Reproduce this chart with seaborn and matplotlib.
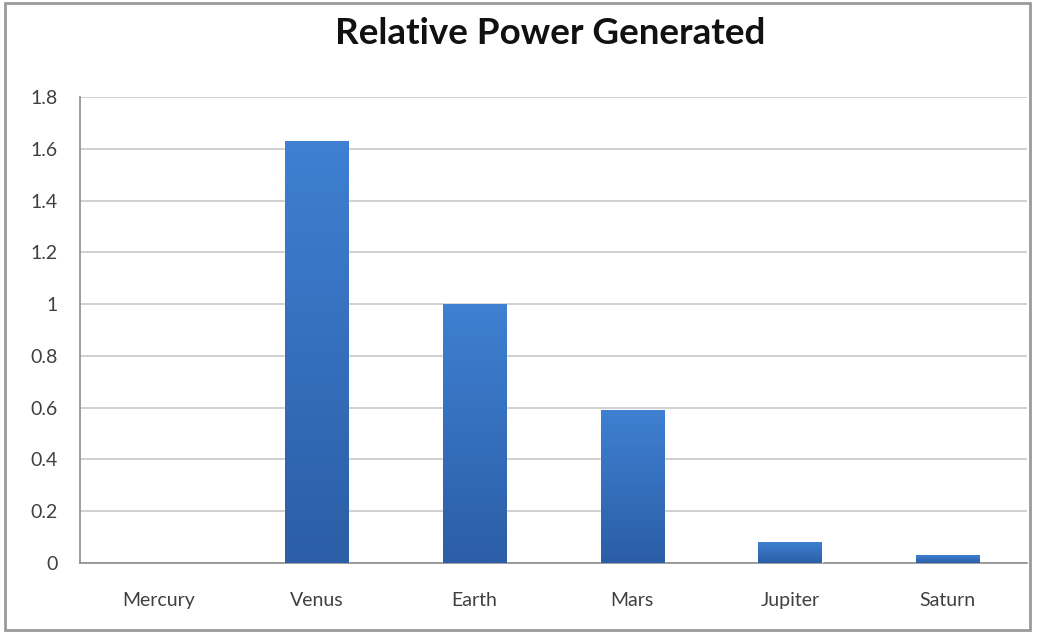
# Recrear grafica de barras: potencia relativa por planeta
import seaborn as sns
import pandas as pd
import numpy as np
import matplotlib.pyplot as plt
from matplotlib.patches import Rectangle

# Datos
planetas = ["Mercury", "Venus", "Earth", "Mars", "Jupiter", "Saturn"]
potencia = [0.0, 1.63, 1.0, 0.59, 0.08, 0.03]
y_ticks = [0, 0.2, 0.4, 0.6, 0.8, 1, 1.2, 1.4, 1.6, 1.8]
y_labels = ["0", "0.2", "0.4", "0.6", "0.8", "1", "1.2", "1.4", "1.6", "1.8"]

df = pd.DataFrame({"planeta": planetas, "potencia": potencia})

sns.set_style("white")
plt.rcParams['font.family'] = ['Lato', 'DejaVu Sans']

fig = plt.figure(figsize=(10.37, 6.34), dpi=100)
ax = fig.add_axes([0.0771, 0.112, 0.913, 0.735])

sns.barplot(data=df, x="planeta", y="potencia", color="#3a78c9", width=0.4, ax=ax, zorder=3)

# gradiente en las barras (claro arriba, oscuro abajo)
grad = np.linspace(0, 1, 256).reshape(-1, 1)
cmap = plt.matplotlib.colors.LinearSegmentedColormap.from_list("g", ["#2b5ea6", "#3f80d2"])
for p in ax.patches:
    h = p.get_height()
    if h <= 0:
        p.set_visible(False)
        continue
    x0 = p.get_x()
    w = p.get_width()
    im = ax.imshow(grad, extent=[x0, x0 + w, 0, h], origin="lower", cmap=cmap,
                   aspect="auto", zorder=4)
    im.set_clip_path(p)

ax.set_xlim(-0.5, 5.5)
ax.set_ylim(0, 1.8)
ax.set_yticks(y_ticks)
ax.set_yticklabels(y_labels)
ax.yaxis.grid(True, color="#c8c8c8", linewidth=1.2, zorder=0)
ax.set_axisbelow(True)

# marcas entre categorias
ax.set_xticks(np.arange(-0.5, 6, 1), minor=True)
ax.tick_params(axis="x", which="major", length=0, pad=21, labelsize=14, labelcolor="#404040")
ax.tick_params(axis="x", which="minor", length=6, color="#808080", width=1.2, direction="out")
ax.tick_params(axis="y", length=6, color="#808080", width=1.2, direction="out",
               labelsize=14, labelcolor="#404040", pad=10)

for lado in ["top", "right"]:
    ax.spines[lado].set_visible(False)
for lado in ["left", "bottom"]:
    ax.spines[lado].set_color("#8c8c8c")
    ax.spines[lado].set_linewidth(1.2)

ax.set_xlabel("")
ax.set_ylabel("")

fig.text(0.531, 0.947, "Relative Power Generated", ha="center", va="center",
         fontsize=26.5, fontweight="bold", color="#111111")

# borde exterior
fig.patches.append(Rectangle((0.005, 0.006), 0.988, 0.989, transform=fig.transFigure,
                             fill=False, edgecolor="#9a9a9a", linewidth=2))

plt.savefig("out.png", dpi=100)
plt.close()
